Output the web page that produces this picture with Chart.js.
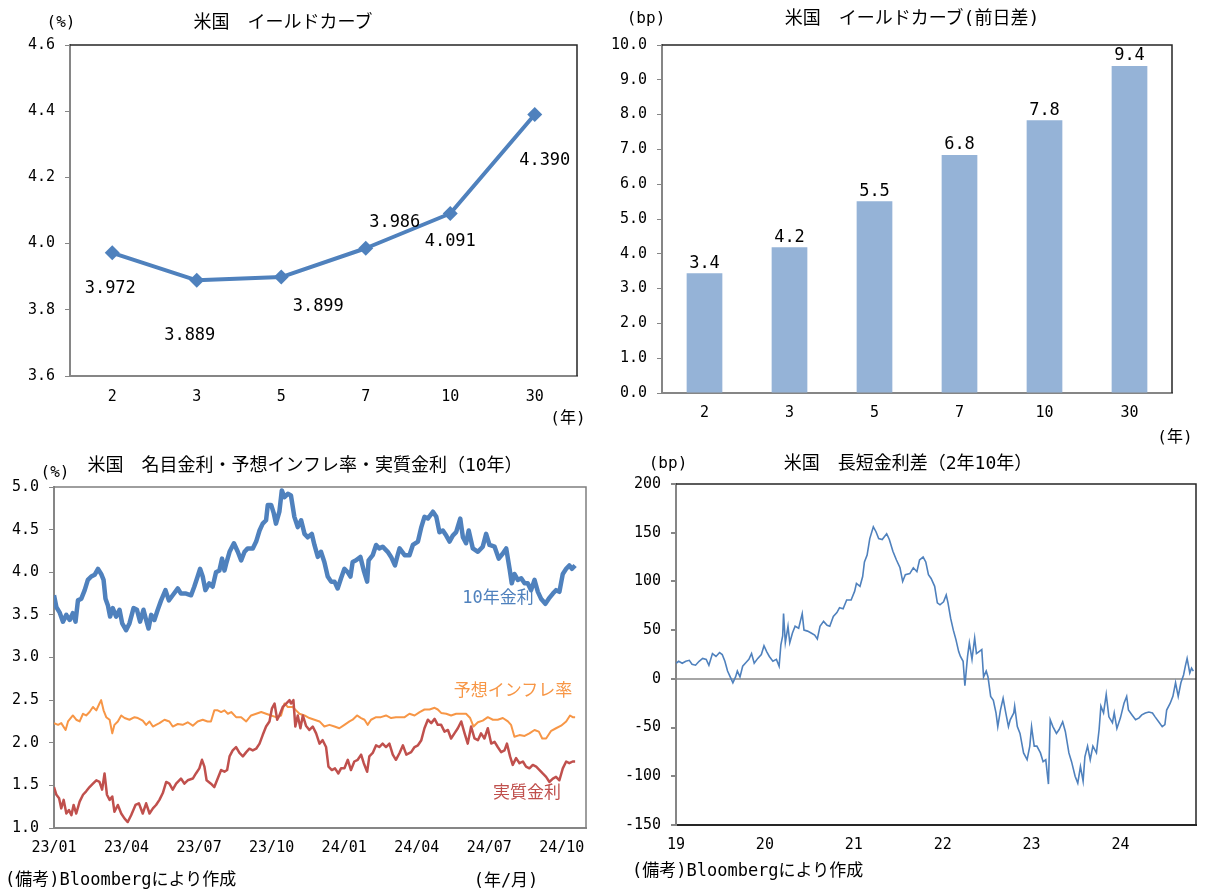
<!DOCTYPE html>
<html lang="ja">
<head>
<meta charset="UTF-8">
<title>米国 金利</title>
<script src="https://cdn.jsdelivr.net/npm/chart.js"></script>
<style>
  body { margin:0; background:#fff; width:1207px; height:896px; position:relative; overflow:hidden;
         font-family:"DejaVu Sans Mono","Noto Sans CJK JP",sans-serif; color:#000; }
  canvas { position:absolute; }
  .t { position:absolute; white-space:nowrap; transform:translate(-50%,-50%); font-size:16px; line-height:1; }
  .l { transform:translate(0,-50%); }
  .ttl { font-size:18px; }
  .big { font-size:17px; }
</style>
</head>
<body>
<canvas id="c1" width="600" height="440" style="left:0;top:0"></canvas>
<canvas id="c2" width="607" height="450" style="left:600px;top:0"></canvas>
<canvas id="c3" width="600" height="440" style="left:0;top:450px"></canvas>
<canvas id="c4" width="607" height="440" style="left:600px;top:450px"></canvas>

<div class="t ttl" style="left:283px;top:22px">米国　イールドカーブ</div>
<div class="t" style="left:61px;top:22px">(%)</div>
<div class="t" style="left:568px;top:418px">(年)</div>

<div class="t ttl" style="left:912px;top:18px">米国　イールドカーブ(前日差)</div>
<div class="t" style="left:646px;top:18px">(bp)</div>
<div class="t" style="left:1175px;top:437px">(年)</div>

<div class="t ttl" style="left:305px;top:465px">米国　名目金利・予想インフレ率・実質金利（10年）</div>
<div class="t" style="left:55px;top:472px">(%)</div>
<div class="t big" style="left:498px;top:597px;color:#4F81BD">10年金利</div>
<div class="t big" style="left:513px;top:690px;color:#F79646">予想インフレ率</div>
<div class="t big" style="left:527px;top:792px;color:#C0504D">実質金利</div>
<div class="t l big" style="left:5px;top:879px">(備考)Bloombergにより作成</div>
<div class="t big" style="left:506px;top:880px">(年/月)</div>

<div class="t ttl" style="left:908px;top:463px">米国　長短金利差（2年10年）</div>
<div class="t" style="left:668px;top:463px">(bp)</div>
<div class="t l big" style="left:632px;top:870px">(備考)Bloombergにより作成</div>

<script>
// イールドカーブ（年限別利回り, %）
const tenors = ['2', '3', '5', '7', '10', '30'];
const yields = [3.972, 3.889, 3.899, 3.986, 4.091, 4.390];
// 前日差（bp）
const dailyChange = [3.44, 4.19, 5.51, 6.84, 7.84, 9.40];

// 名目金利・予想インフレ率・実質金利（10年）: x = 2023年1月からの月数
const nomM = [0,0.10,0.23,0.37,0.51,0.65,0.78,0.89,0.99,1.13,1.27,1.40,1.54,1.68,1.82,1.95,2.05,2.13,2.23,2.32,2.43,2.57,2.71,2.82,2.98,3.12,3.29,3.43,3.56,3.70,3.81,3.91,4.02,4.15,4.29,4.43,4.61,4.75,4.91,5.12,5.25,5.46,5.67,5.80,5.94,6.04,6.15,6.26,6.42,6.56,6.70,6.84,6.95,7.05,7.12,7.26,7.44,7.60,7.74,7.88,8.01,8.22,8.36,8.50,8.63,8.77,8.84,8.98,9.09,9.18,9.32,9.42,9.53,9.67,9.80,9.94,10.08,10.22,10.36,10.49,10.66,10.77,10.91,11.04,11.18,11.32,11.46,11.60,11.73,11.87,12.01,12.15,12.26,12.35,12.49,12.67,12.81,12.95,13.01,13.18,13.32,13.45,13.59,13.80,13.94,14.10,14.21,14.29,14.50,14.70,14.84,15.05,15.19,15.32,15.46,15.67,15.81,15.94,16.08,16.22,16.36,16.49,16.63,16.80,16.91,17.04,17.15,17.32,17.53,17.73,17.87,18.01,18.22,18.39,18.56,18.70,18.84,18.93,19.04,19.18,19.32,19.46,19.59,19.73,19.87,20.01,20.14,20.32,20.46,20.63,20.76,20.90,21.04,21.18,21.31,21.42,21.55];
const nomV = [3.73,3.59,3.53,3.42,3.50,3.44,3.52,3.42,3.67,3.69,3.79,3.91,3.95,3.97,4.04,3.98,3.91,3.69,3.61,3.48,3.58,3.48,3.56,3.40,3.32,3.40,3.58,3.56,3.42,3.56,3.44,3.34,3.50,3.44,3.56,3.67,3.79,3.67,3.73,3.81,3.75,3.75,3.73,3.83,3.95,4.04,3.95,3.79,3.87,3.83,4.00,4.02,4.16,4.02,4.10,4.24,4.34,4.24,4.14,4.24,4.28,4.28,4.36,4.49,4.57,4.61,4.79,4.79,4.69,4.57,4.71,4.96,4.88,4.92,4.90,4.65,4.53,4.61,4.45,4.41,4.45,4.32,4.18,4.24,4.12,3.95,3.89,3.89,3.81,3.93,4.04,4.00,3.95,4.12,4.14,4.18,4.02,3.89,4.14,4.20,4.32,4.28,4.30,4.24,4.18,4.08,4.20,4.28,4.20,4.20,4.32,4.36,4.53,4.65,4.63,4.71,4.65,4.47,4.49,4.43,4.36,4.43,4.47,4.63,4.41,4.34,4.49,4.28,4.24,4.30,4.45,4.32,4.30,4.16,4.22,4.28,4.04,3.87,3.98,3.91,3.93,3.87,3.87,3.79,3.91,3.77,3.69,3.63,3.69,3.75,3.79,3.77,3.98,4.04,4.08,4.04,4.08];

const beiM = [0,0.17,0.30,0.48,0.58,0.78,0.92,1.06,1.20,1.33,1.47,1.61,1.75,1.88,1.95,2.05,2.16,2.30,2.41,2.50,2.64,2.78,2.92,3.12,3.33,3.47,3.67,3.81,3.95,4.09,4.22,4.36,4.57,4.77,4.91,5.12,5.32,5.53,5.74,5.94,6.15,6.35,6.49,6.63,6.77,6.91,7.05,7.19,7.33,7.53,7.74,7.95,8.15,8.36,8.57,8.77,8.98,9.18,9.39,9.53,9.67,9.87,10.01,10.15,10.36,10.56,10.77,10.98,11.18,11.39,11.60,11.80,12.01,12.22,12.35,12.53,12.70,12.84,12.97,13.11,13.32,13.52,13.73,13.94,14.14,14.29,14.50,14.70,14.91,15.12,15.32,15.53,15.74,15.87,16.01,16.22,16.42,16.63,16.84,17.04,17.21,17.35,17.53,17.73,17.94,18.15,18.35,18.56,18.77,18.90,19.04,19.25,19.46,19.66,19.87,20.05,20.19,20.35,20.56,20.76,20.97,21.18,21.34,21.45,21.55];
const beiV = [2.23,2.21,2.23,2.15,2.25,2.32,2.27,2.25,2.34,2.32,2.36,2.42,2.38,2.46,2.50,2.38,2.30,2.27,2.11,2.21,2.25,2.32,2.29,2.27,2.30,2.29,2.26,2.21,2.25,2.19,2.21,2.23,2.27,2.25,2.19,2.22,2.21,2.24,2.20,2.25,2.27,2.25,2.25,2.38,2.38,2.36,2.38,2.34,2.36,2.30,2.30,2.25,2.32,2.34,2.36,2.34,2.32,2.30,2.32,2.46,2.42,2.42,2.38,2.34,2.32,2.29,2.27,2.25,2.19,2.21,2.19,2.17,2.21,2.25,2.27,2.32,2.29,2.27,2.21,2.27,2.30,2.30,2.32,2.29,2.30,2.30,2.30,2.34,2.32,2.36,2.39,2.39,2.41,2.39,2.35,2.34,2.32,2.34,2.34,2.34,2.29,2.19,2.24,2.26,2.30,2.27,2.27,2.29,2.25,2.21,2.07,2.09,2.08,2.11,2.15,2.13,2.05,2.05,2.14,2.17,2.20,2.25,2.32,2.30,2.30];

const realM = [0,0.10,0.21,0.30,0.40,0.51,0.62,0.72,0.81,0.92,1.06,1.20,1.33,1.47,1.61,1.75,1.88,1.99,2.09,2.19,2.30,2.41,2.50,2.64,2.78,2.92,3.05,3.19,3.37,3.51,3.67,3.81,3.95,4.09,4.22,4.36,4.50,4.64,4.77,4.91,5.05,5.25,5.39,5.53,5.74,5.87,6.01,6.12,6.22,6.31,6.49,6.63,6.77,6.91,7.05,7.16,7.26,7.39,7.53,7.67,7.81,7.95,8.08,8.22,8.36,8.50,8.63,8.77,8.91,9.01,9.12,9.23,9.32,9.46,9.60,9.74,9.80,9.90,9.98,10.08,10.19,10.29,10.42,10.56,10.70,10.84,10.98,11.11,11.25,11.35,11.49,11.62,11.76,11.87,12.01,12.15,12.28,12.42,12.56,12.70,12.81,12.95,13.04,13.18,13.32,13.45,13.59,13.73,13.87,14.01,14.14,14.29,14.43,14.57,14.77,14.91,15.05,15.19,15.32,15.46,15.60,15.74,15.87,16.01,16.15,16.29,16.42,16.56,16.70,16.84,16.98,17.11,17.25,17.39,17.53,17.66,17.80,17.94,18.08,18.22,18.35,18.49,18.63,18.73,18.86,18.97,19.11,19.25,19.39,19.52,19.66,19.80,19.94,20.08,20.21,20.35,20.49,20.63,20.76,20.90,21.04,21.18,21.31,21.45,21.55];
const realV = [1.48,1.39,1.35,1.23,1.33,1.17,1.21,1.15,1.27,1.17,1.31,1.39,1.43,1.48,1.52,1.56,1.54,1.45,1.64,1.39,1.33,1.37,1.19,1.27,1.17,1.11,1.07,1.15,1.27,1.29,1.17,1.29,1.17,1.23,1.27,1.33,1.41,1.54,1.52,1.45,1.52,1.58,1.52,1.56,1.58,1.64,1.70,1.80,1.72,1.56,1.52,1.48,1.58,1.68,1.66,1.68,1.84,1.91,1.95,1.88,1.84,1.89,1.93,1.91,1.93,1.99,2.09,2.19,2.25,2.40,2.46,2.27,2.32,2.42,2.46,2.50,2.46,2.50,2.19,2.32,2.17,2.32,2.20,2.15,2.19,2.11,1.99,2.03,1.95,1.72,1.68,1.70,1.64,1.70,1.70,1.80,1.68,1.78,1.80,1.86,1.76,1.66,1.84,1.88,1.97,1.95,1.99,1.95,1.99,1.86,1.80,1.88,1.97,1.86,1.89,1.95,1.97,2.03,2.17,2.27,2.23,2.28,2.21,2.21,2.13,2.15,2.05,2.11,2.17,2.25,2.11,1.99,2.19,2.05,2.03,2.11,2.05,2.17,1.99,2.01,1.95,1.89,1.91,1.99,1.84,1.74,1.82,1.76,1.78,1.72,1.70,1.74,1.72,1.68,1.64,1.60,1.54,1.58,1.60,1.56,1.70,1.78,1.76,1.78,1.78];

const monthTicks = [0, 3, 6, 9, 12, 15, 18, 21];
const monthTickLabels = ['23/01', '23/04', '23/07', '23/10', '24/01', '24/04', '24/07', '24/10'];

// 長短金利差（2年10年, bp）: x = 年（19 = 2019年初）
const sprY = [19.00,19.03,19.07,19.11,19.15,19.18,19.22,19.26,19.30,19.34,19.37,19.41,19.45,19.49,19.52,19.55,19.58,19.61,19.64,19.67,19.69,19.72,19.75,19.79,19.82,19.85,19.88,19.92,19.96,19.99,20.02,20.05,20.09,20.13,20.16,20.18,20.20,20.21,20.23,20.26,20.28,20.31,20.34,20.38,20.42,20.44,20.48,20.52,20.56,20.59,20.62,20.66,20.70,20.73,20.77,20.81,20.84,
  20.88,20.92,20.97,21.01,21.03,21.07,21.10,21.12,21.15,21.18,21.22,21.25,21.28,21.32,21.37,21.40,21.44,21.48,21.52,21.55,21.58,21.63,21.67,21.71,21.74,21.78,21.81,21.84,21.87,21.91,21.94,21.97,22.01,22.04,22.06,22.09,22.12,22.15,22.18,22.20,22.23,22.25,22.28,22.30,22.33,22.36,22.38,22.41,22.44,22.46,22.49,22.51,22.54,22.57,22.60,22.62,22.65,22.68,22.71,22.74,
  22.76,22.80,22.81,22.84,22.87,22.91,22.95,22.98,23.00,23.03,23.06,23.10,23.13,23.16,23.19,23.21,23.24,23.28,23.31,23.35,23.38,23.42,23.45,23.49,23.52,23.55,23.58,23.60,23.63,23.66,23.69,23.73,23.76,23.78,23.81,23.84,23.87,23.91,23.93,23.96,24.00,24.04,24.07,24.09,24.13,24.17,24.21,24.24,24.28,24.32,24.36,24.39,24.43,24.47,24.50,24.52,24.56,24.59,24.62,24.65,24.68,24.71,24.73,24.75,24.78,24.80,24.82];
const sprV = [16,18,16,18,19,15,14,18,21,20,14,26,23,27,25,18,8,2,-4,2,8,2,13,17,20,26,16,21,25,34,28,23,18,20,13,35,44,67,37,54,37,47,54,52,67,50,49,47,45,41,54,59,55,54,64,68,73,
  72,81,81,90,98,95,105,120,127,144,156,151,144,143,149,143,131,122,114,100,107,108,114,110,122,125,120,107,103,95,78,76,79,86,78,62,50,40,28,23,18,-7,23,37,20,42,26,28,30,2,8,2,-18,-22,-35,-49,-32,-20,-35,-49,
  -42,-35,-28,-49,-56,-76,-83,-69,-49,-69,-69,-76,-85,-83,-108,-42,-49,-56,-52,-44,-54,-76,-85,-100,-107,-90,-105,-80,-69,-83,-69,-76,-52,-28,-35,-16,-39,-45,-35,-51,-40,-25,-18,-32,-37,-42,-40,-37,-35,-34,-35,-39,-44,-49,-47,-32,-25,-18,-4,-18,-4,4,13,21,6,11,8];

const yearTicks = [19, 20, 21, 22, 23, 24];
const yearTickLabels = ['19', '20', '21', '22', '23', '24'];

const MONO = '"DejaVu Sans Mono", "Noto Sans CJK JP", sans-serif';
Chart.defaults.font.family = MONO;
Chart.defaults.font.size = 15;
Chart.defaults.color = '#000';
Chart.defaults.animation = false;
Chart.defaults.responsive = false;
Chart.defaults.plugins.legend.display = false;
Chart.defaults.plugins.tooltip.enabled = false;

const AXIS = '#868686';

// 上辺・右辺の枠線
const frame = {
  id: 'frame',
  beforeDatasetsDraw(chart, args, opts) {
    const { ctx, chartArea: a } = chart;
    ctx.save();
    ctx.strokeStyle = opts.color || '#262626';
    ctx.lineWidth = opts.width || 1.5;
    ctx.beginPath();
    ctx.moveTo(a.left, a.top);
    ctx.lineTo(a.right, a.top);
    ctx.lineTo(a.right, a.bottom);
    ctx.stroke();
    ctx.restore();
  }
};

// データラベル
const valueLabels = {
  id: 'valueLabels',
  afterDatasetsDraw(chart, args, opts) {
    if (!opts.offsets) return;
    const ctx = chart.ctx;
    const meta = chart.getDatasetMeta(0);
    const vals = chart.data.datasets[0].data;
    ctx.save();
    ctx.font = '17px ' + MONO;
    ctx.fillStyle = '#000';
    ctx.textAlign = 'center';
    ctx.textBaseline = 'middle';
    meta.data.forEach((el, i) => {
      const o = opts.offsets[i] || opts.offsets[0];
      ctx.fillText(vals[i].toFixed(opts.digits), el.x + o[0], el.y + o[1]);
    });
    ctx.restore();
  }
};

const yAxis = (min, max, step, width, digits, extra) => Object.assign({
  min: min, max: max,
  ticks: { stepSize: step, padding: 10, callback: v => digits == null ? v : v.toFixed(digits) },
  grid: { drawOnChartArea: false, tickLength: 5, color: AXIS },
  border: { color: AXIS, width: 2 },
  afterFit: s => { s.width = width; }
}, extra || {});

// 1. イールドカーブ
new Chart(document.getElementById('c1'), {
  type: 'line',
  data: {
    labels: tenors,
    datasets: [{
      data: yields, borderColor: '#4F81BD', backgroundColor: '#4F81BD', borderWidth: 4,
      pointStyle: 'rectRot', pointRadius: 7.5, pointBorderWidth: 0, borderJoinStyle: 'round'
    }]
  },
  options: {
    layout: { padding: { left: 0, top: 45, right: 23, bottom: 34 } },
    plugins: { valueLabels: { offsets: [[-2, 36], [-7, 55], [37, 30], [29, -26], [0, 28], [10, 46]], digits: 3 } },
    scales: {
      x: { offset: true, grid: { display: false, drawTicks: false }, border: { color: AXIS, width: 2 },
           ticks: { padding: 12 }, afterFit: s => { s.height = 30; } },
      y: yAxis(3.6, 4.6, 0.2, 70, 1)
    }
  },
  plugins: [frame, valueLabels]
});

// 2. イールドカーブ（前日差）
new Chart(document.getElementById('c2'), {
  type: 'bar',
  data: {
    labels: tenors,
    datasets: [{ data: dailyChange, backgroundColor: '#95B3D7', barPercentage: 0.42, categoryPercentage: 1 }]
  },
  options: {
    layout: { padding: { left: 0, top: 45, right: 35, bottom: 27 } },
    plugins: { valueLabels: { offsets: [[0, -10]], digits: 1 } },
    scales: {
      x: { grid: { display: false, drawTicks: false }, border: { color: AXIS, width: 2 },
           ticks: { padding: 11 }, afterFit: s => { s.height = 30; } },
      y: yAxis(0, 10, 1, 62, 1)
    }
  },
  plugins: [frame, valueLabels]
});

// 3. 名目金利・予想インフレ率・実質金利
const pairs = (xs, ys) => xs.map((x, i) => ({ x: x, y: ys[i] }));
new Chart(document.getElementById('c3'), {
  type: 'line',
  data: {
    datasets: [
      { data: pairs(nomM, nomV), borderColor: '#4F81BD', borderWidth: 4.5 },
      { data: pairs(realM, realV), borderColor: '#C0504D', borderWidth: 2.5 },
      { data: pairs(beiM, beiV), borderColor: '#F79646', borderWidth: 2 }
    ]
  },
  options: {
    elements: { point: { radius: 0 }, line: { tension: 0, borderJoinStyle: 'round' } },
    layout: { padding: { left: 0, top: 37, right: 14, bottom: 32 } },
    plugins: { frame: { color: '#7F7F7F', width: 1.5 } },
    scales: {
      x: { type: 'linear', min: 0, max: 22,
           afterBuildTicks: s => { s.ticks = monthTicks.map(v => ({ value: v })); },
           ticks: { padding: 11, autoSkip: false, maxRotation: 0, callback: (v, i) => monthTickLabels[i] },
           grid: { display: false, drawTicks: false }, border: { color: AXIS, width: 2 },
           afterFit: s => { s.height = 30; } },
      y: yAxis(1, 5, 0.5, 54, 1)
    }
  },
  plugins: [frame]
});

// 4. 長短金利差
new Chart(document.getElementById('c4'), {
  type: 'line',
  data: { datasets: [{ data: pairs(sprY, sprV), borderColor: '#4F81BD', borderWidth: 1.6 }] },
  options: {
    elements: { point: { radius: 0 }, line: { tension: 0 } },
    layout: { padding: { left: 0, top: 34, right: 11, bottom: 35 } },
    scales: {
      x: { type: 'linear', min: 19, max: 24.85,
           afterBuildTicks: s => { s.ticks = yearTicks.map(v => ({ value: v })); },
           ticks: { padding: 11, autoSkip: false, maxRotation: 0, callback: (v, i) => yearTickLabels[i] },
           grid: { display: false, drawTicks: false }, border: { color: '#262626', width: 2 },
           afterFit: s => { s.height = 30; } },
      y: yAxis(-150, 200, 50, 76, null, {
        grid: {
          drawOnChartArea: true, tickLength: 5, tickColor: AXIS, lineWidth: 2,
          color: c => (c.tick && c.tick.value === 0) ? '#A6A6A6' : 'rgba(0,0,0,0)'
        }
      })
    }
  },
  plugins: [frame]
});
</script>
</body>
</html>
